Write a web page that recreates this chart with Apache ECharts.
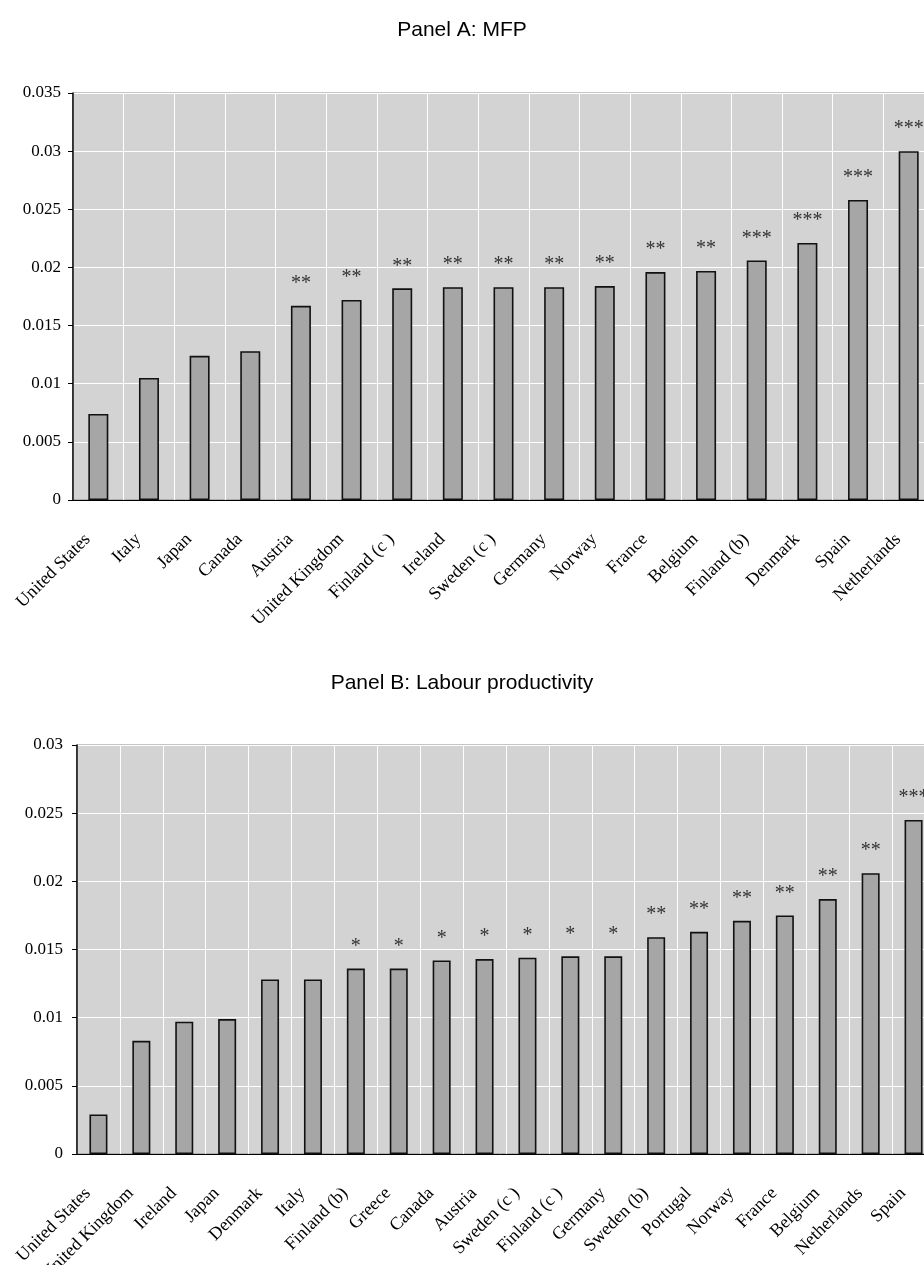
<!DOCTYPE html>
<html>
<head>
<meta charset="utf-8">
<title>MFP and labour productivity</title>
<script src="https://cdn.jsdelivr.net/npm/echarts@6/dist/echarts.min.js"></script>
<style>
  html, body { margin: 0; padding: 0; background: #ffffff; }
  #chart { width: 924px; height: 1265px; }
</style>
</head>
<body>
<div id="chart"></div>
<script>
// Panel A: multifactor productivity
const categoriesA = ['United States', 'Italy', 'Japan', 'Canada', 'Austria', 'United Kingdom',
  'Finland (c )', 'Ireland', 'Sweden (c )', 'Germany', 'Norway', 'France', 'Belgium',
  'Finland (b)', 'Denmark', 'Spain', 'Netherlands'];
const mfpValues = [0.0074, 0.0105, 0.0124, 0.0128, 0.0167, 0.0172, 0.0182, 0.0183, 0.0183,
  0.0183, 0.0184, 0.0196, 0.0197, 0.0206, 0.0221, 0.0258, 0.0300];
const mfpStars = ['', '', '', '', '**', '**', '**', '**', '**', '**', '**', '**', '**',
  '***', '***', '***', '***'];

// Panel B: labour productivity
const categoriesB = ['United States', 'United Kingdom', 'Ireland', 'Japan', 'Denmark', 'Italy',
  'Finland (b)', 'Greece', 'Canada', 'Austria', 'Sweden (c )', 'Finland (c )', 'Germany',
  'Sweden (b)', 'Portugal', 'Norway', 'France', 'Belgium', 'Netherlands', 'Spain'];
const lpValues = [0.0029, 0.0083, 0.0097, 0.0099, 0.0128, 0.0128, 0.0136, 0.0136, 0.0142,
  0.0143, 0.0144, 0.0145, 0.0145, 0.0159, 0.0163, 0.0171, 0.0175, 0.0187, 0.0206, 0.0245];
const lpStars = ['', '', '', '', '', '', '*', '*', '*', '*', '*', '*', '*',
  '**', '**', '**', '**', '**', '**', '***'];

const serif = '"Liberation Serif", "Times New Roman", serif';
const sans = '"Liberation Sans", Arial, sans-serif';

function catAxis(gridIndex, data) {
  return {
    type: 'category',
    gridIndex: gridIndex,
    data: data,
    boundaryGap: true,
    axisLine: { show: true, lineStyle: { color: '#000', width: 1 } },
    axisTick: { show: false },
    splitLine: { show: true, lineStyle: { color: '#ffffff', width: 1 } },
    axisLabel: {
      interval: 0,
      rotate: 45,
      margin: 26,
      padding: [0, 15, 0, 0],
      fontFamily: serif,
      fontSize: 18,
      color: '#000'
    }
  };
}

function valAxis(gridIndex, max, margin) {
  return {
    type: 'value',
    gridIndex: gridIndex,
    min: 0,
    max: max,
    interval: 0.005,
    axisLine: { show: true, lineStyle: { color: '#000', width: 1.5 } },
    axisTick: { show: true, length: 5, lineStyle: { color: '#000', width: 1 } },
    splitLine: { show: true, lineStyle: { color: '#ffffff', width: 1.2 } },
    axisLabel: {
      margin: margin,
      fontFamily: serif,
      fontSize: 17,
      color: '#000'
    }
  };
}

function barSeries(index, values, stars, width) {
  return {
    type: 'bar',
    xAxisIndex: index,
    yAxisIndex: index,
    data: values,
    barWidth: width,
    itemStyle: { color: '#a6a6a6', borderColor: '#111', borderWidth: 1.6 },
    label: {
      show: true,
      position: 'top',
      distance: 12,
      fontFamily: serif,
      fontSize: 20,
      color: '#333',
      formatter: p => stars[p.dataIndex]
    },
    silent: true,
    animation: false
  };
}

const chart = echarts.init(document.getElementById('chart'), null, { renderer: 'canvas' });
chart.setOption({
  backgroundColor: '#ffffff',
  animation: false,
  title: [
    { text: 'Panel A: MFP', left: 'center', top: 15,
      textStyle: { fontFamily: sans, fontSize: 21, fontWeight: 'normal', color: '#000' } },
    { text: 'Panel B: Labour productivity', left: 'center', top: 668,
      textStyle: { fontFamily: sans, fontSize: 21, fontWeight: 'normal', color: '#000' } }
  ],
  grid: [
    { left: 73, top: 93, width: 861, height: 407, show: true, containLabel: false,
      outerBoundsMode: 'none',
      backgroundColor: '#d3d3d3', borderColor: '#888', borderWidth: 1 },
    { left: 77, top: 745, width: 858, height: 409, show: true, containLabel: false,
      outerBoundsMode: 'none',
      backgroundColor: '#d3d3d3', borderColor: '#888', borderWidth: 1 }
  ],
  xAxis: [catAxis(0, categoriesA), catAxis(1, categoriesB)],
  yAxis: [valAxis(0, 0.035, 12), valAxis(1, 0.03, 14)],
  series: [
    barSeries(0, mfpValues, mfpStars, 20),
    barSeries(1, lpValues, lpStars, 18)
  ]
});
</script>
</body>
</html>
